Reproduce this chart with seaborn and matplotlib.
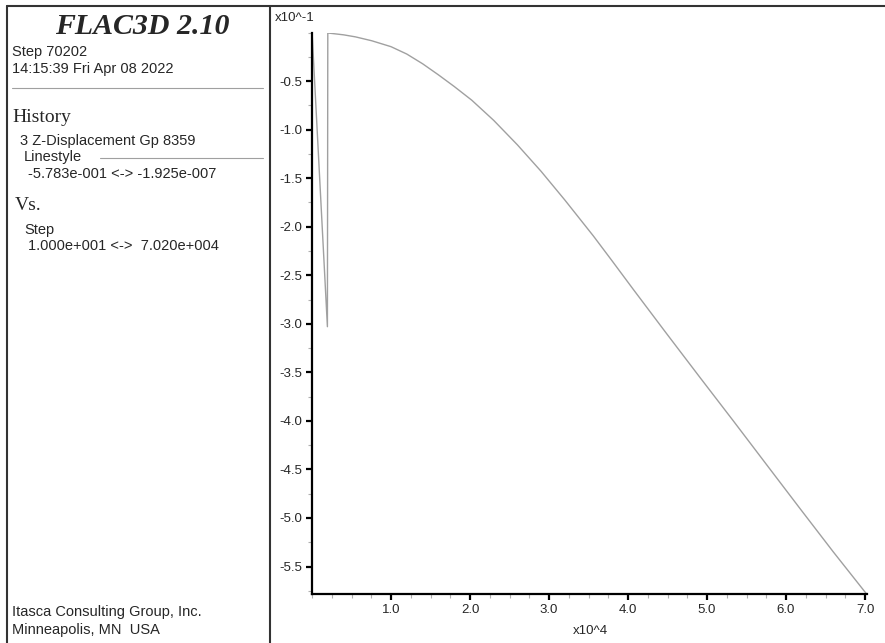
import numpy as np
import pandas as pd
import matplotlib
matplotlib.use("Agg")
import matplotlib.pyplot as plt
from matplotlib.ticker import FixedLocator, MultipleLocator, FuncFormatter
from matplotlib.lines import Line2D
import seaborn as sns

# ---- data ----
steps = [10, 1950, 2000, 4000, 5500, 7560, 10000, 12000, 14000, 16000, 18000,
         20220, 23000, 26000, 29000, 32000, 35610, 37940, 40670, 44900, 49110,
         53330, 57560, 61770, 65990, 70200]
z_disp = [-1.925e-7, -0.3030, -0.0005, -0.0024, -0.0045, -0.0085, -0.0146,
          -0.0222, -0.0322, -0.0436, -0.0556, -0.0697, -0.0905, -0.1157, -0.1430,
          -0.1725, -0.2095, -0.2347, -0.2646, -0.3103, -0.3553, -0.4000, -0.4453,
          -0.4903, -0.5350, -0.5783]
xticks = [1.0, 2.0, 3.0, 4.0, 5.0, 6.0, 7.0]
yticks = [-0.5, -1.0, -1.5, -2.0, -2.5, -3.0, -3.5, -4.0, -4.5, -5.0, -5.5]

df = pd.DataFrame({"step": np.array(steps) / 1e4, "zdisp": np.array(z_disp) * 10})

sns.set_style("white")
plt.rcParams["font.family"] = ["Liberation Sans", "DejaVu Sans"]

W, H = 885, 643
fig = plt.figure(figsize=(W / 100, H / 100), dpi=100)

def fx(px):
    return px / W

def fy(py):
    return 1 - py / H

# ---- plot axes ----
ax = fig.add_axes([fx(312), fy(594), fx(866.6) - fx(312), fy(32.5) - fy(594)])
sns.lineplot(data=df, x="step", y="zdisp", ax=ax, color="#a0a0a0", linewidth=1.0,
             estimator=None, sort=False)
ax.set_xlim(0, 7.02)
ax.set_ylim(-5.783, 0)
ax.set_xlabel("")
ax.set_ylabel("")
for s in ["top", "right"]:
    ax.spines[s].set_visible(False)
for s in ["left", "bottom"]:
    ax.spines[s].set_color("black")
    ax.spines[s].set_linewidth(1.6)
ax.xaxis.set_major_locator(FixedLocator(xticks))
ax.yaxis.set_major_locator(FixedLocator(yticks))
ax.xaxis.set_minor_locator(MultipleLocator(0.25))
ax.yaxis.set_minor_locator(MultipleLocator(0.25))
ax.xaxis.set_major_formatter(FuncFormatter(lambda v, p: f"{v:.1f}"))
ax.yaxis.set_major_formatter(FuncFormatter(lambda v, p: f"{v:.1f}"))
ax.tick_params(which="major", direction="out", length=4, width=1.6, color="black",
               labelsize=9.5, pad=3, bottom=True, left=True)
ax.tick_params(which="minor", direction="out", length=3, width=0.8, color="#b0b0b0",
               bottom=True, left=True)
ax.grid(False)

fig.text(fx(275), fy(18), "x10^-1", fontsize=9.5, ha="left", va="center")
fig.text(fx(590), fy(631), "x10^4", fontsize=9.5, ha="center", va="center")

# ---- frame lines ----
border = dict(color="#333333", linewidth=1.5, transform=fig.transFigure)
fig.add_artist(Line2D([fx(7), fx(885)], [fy(6), fy(6)], **border))
fig.add_artist(Line2D([fx(7), fx(7)], [fy(6), fy(643)], **border))
fig.add_artist(Line2D([fx(270), fx(270)], [fy(6), fy(643)], **border))
sep = dict(color="#a0a0a0", linewidth=0.8, transform=fig.transFigure)
fig.add_artist(Line2D([fx(12), fx(263)], [fy(88), fy(88)], **sep))
fig.add_artist(Line2D([fx(100), fx(263)], [fy(158), fy(158)], **sep))

# ---- left panel text ----
serif = ["Liberation Serif", "DejaVu Serif"]
fig.text(fx(142), fy(26), "FLAC3D 2.10", fontsize=21.5, family=serif, weight="bold",
         style="italic", ha="center", va="center")
body = dict(fontsize=10.5, ha="left", va="center")
fig.text(fx(12), fy(52), "Step 70202", **body)
fig.text(fx(12), fy(69), "14:15:39 Fri Apr 08 2022", **body)
fig.text(fx(12), fy(117), "History", fontsize=14, family=serif, ha="left", va="center")
fig.text(fx(20), fy(141), "3 Z-Displacement Gp 8359", **body)
fig.text(fx(24), fy(157), "Linestyle", **body)
fig.text(fx(28), fy(174), "-5.783e-001 <-> -1.925e-007", **body)
fig.text(fx(15), fy(206), "Vs.", fontsize=14, family=serif, ha="left", va="center")
fig.text(fx(24), fy(230), "Step", **body)
fig.text(fx(28), fy(246), "1.000e+001 <->  7.020e+004", **body)
fig.text(fx(12), fy(612), "Itasca Consulting Group, Inc.", **body)
fig.text(fx(12), fy(630), "Minneapolis, MN  USA", **body)

fig.savefig("out.png", dpi=100, facecolor="white")
